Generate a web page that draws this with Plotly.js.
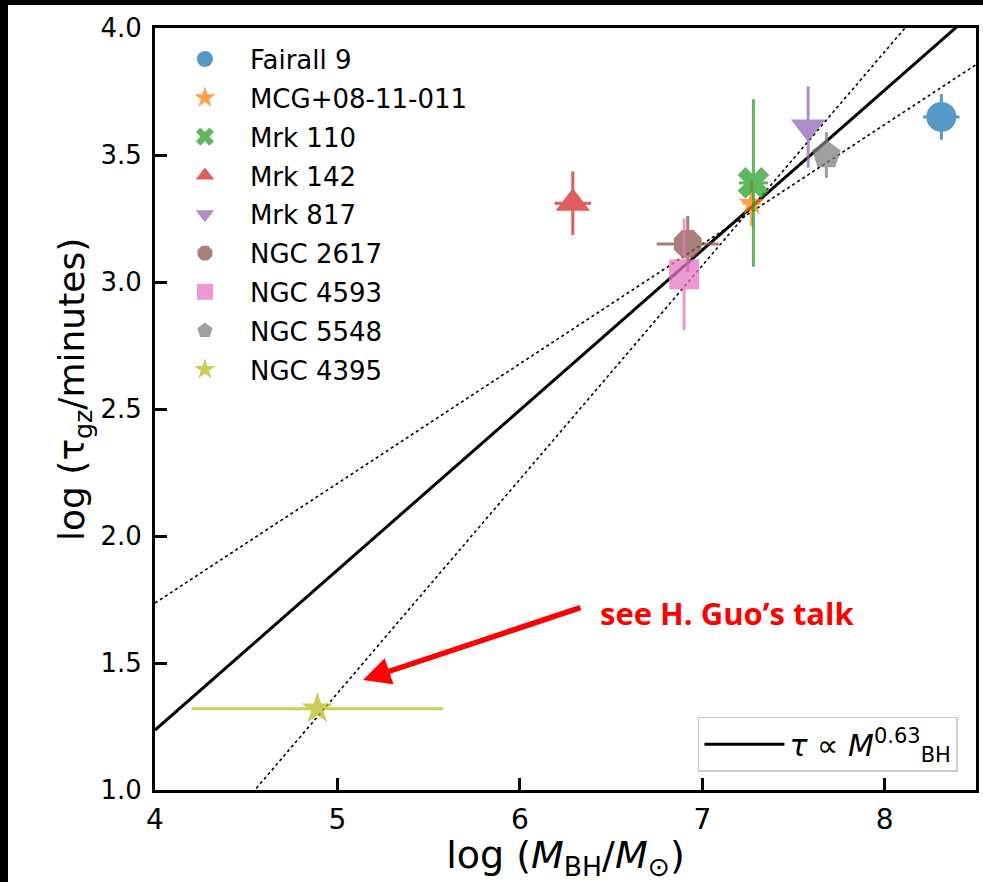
<!DOCTYPE html>
<html>
<head>
<meta charset="utf-8">
<script src="https://cdn.plot.ly/plotly-3.0.1.min.js"></script>
<style>
  html, body { margin: 0; padding: 0; background: #000; width: 983px; height: 882px; overflow: hidden; }
  #chart { position: absolute; left: 8px; top: 5px; width: 975px; height: 877px; background: #fff; }
</style>
</head>
<body>
<div id="chart"></div>
<script>
// ---- data ----
const names   = ['Fairall 9', 'MCG+08-11-011', 'Mrk 110', 'Mrk 142', 'Mrk 817', 'NGC 2617', 'NGC 4593', 'NGC 5548', 'NGC 4395'];
const logM    = [8.31, 7.27, 7.28, 6.29, 7.58, 6.92, 6.90, 7.68, 4.89];
const logTau  = [3.65, 3.31, 3.39, 3.31, 3.61, 3.15, 3.03, 3.50, 1.32];
const errM    = [0.10, 0.05, 0.08, 0.10, 0.05, 0.17, 0.05, 0.03, 0.69];
const errTau  = [0.09, 0.09, 0.33, 0.125, 0.16, 0.11, 0.22, 0.09, 0.03];
const colors  = ['#1f77b4', '#ff7f0e', '#2ca02c', '#d62728', '#9467bd', '#8c564b', '#e377c2', '#7f7f7f', '#bcbd22'];
const symbols = ['circle', 'star', 'x', 'triangle-up', 'triangle-down', 'octagon', 'square', 'pentagon', 'star'];
const sizes   = [30, 20, 28, 30, 30, 30, 30, 30, 24];

// best fit (solid) and bounding fits (dotted): y = intercept + slope * x
const fitSlope = 0.63, fitIntercept = -1.284;
const boundSlopes = [0.471, 0.842];
const boundIntercepts = [-0.148, -2.829];
const lineX = [4, 8.5];

const xTicks = [4, 5, 6, 7, 8];
const yTicks = [1.0, 1.5, 2.0, 2.5, 3.0, 3.5, 4.0];

// annotation: arrow head, arrow tail, label centre
const arrowHead = [5.14, 1.433];
const arrowTail = [6.34, 1.72];
const noteXY    = [7.14, 1.697];
const noteText  = 'see H. Guo’s talk';
const yTitle    = 'log (τ<sub>gz</sub>/minutes)';
const xTitle    = 'log (<i>M</i><sub>BH</sub>/<i>M</i><sub>⊙</sub>)';

const traces = [];
for (let i = 0; i < boundSlopes.length; i++) {
  traces.push({
    x: lineX, y: lineX.map(v => boundIntercepts[i] + boundSlopes[i] * v),
    mode: 'lines', line: {color: '#000', width: 1.6, dash: 'dot'},
    showlegend: false, hoverinfo: 'skip'
  });
}
traces.push({
  x: lineX, y: lineX.map(v => fitIntercept + fitSlope * v),
  mode: 'lines', line: {color: '#000', width: 3},
  name: '<i>τ</i> ∝ <i>M</i><sup>0.63</sup><sub>BH</sub>',
  legend: 'legend2'
});
for (let i = 0; i < names.length; i++) {
  traces.push({
    x: [logM[i]], y: [logTau[i]], name: names[i],
    mode: 'markers', type: 'scatter',
    legendgroup: 'g' + i,
    opacity: 0.75,
    marker: {color: colors[i], symbol: symbols[i], size: sizes[i], line: {width: 0}},
    error_x: {type: 'data', array: [errM[i]], color: colors[i], thickness: 3, width: 0},
    error_y: {type: 'data', array: [errTau[i]], color: colors[i], thickness: 3, width: 0}
  });
}

const axisCommon = {
  showgrid: false, zeroline: false,
  showline: true, linecolor: '#000', linewidth: 3, mirror: true,
  ticks: 'inside', ticklen: 12, tickwidth: 3, tickcolor: '#000'
};

const layout = {
  width: 975, height: 877,
  margin: {l: 147, r: 7, t: 23, b: 92},
  paper_bgcolor: '#fff', plot_bgcolor: '#fff',
  font: {family: 'DejaVu Sans', size: 26, color: '#000'},
  xaxis: Object.assign({}, axisCommon, {
    range: [4, 8.5], tickvals: xTicks, ticktext: xTicks.map(String),
    tickfont: {family: 'DejaVu Sans', size: 28, color: '#000'},
    ticklabelstandoff: 2,
    title: {text: xTitle, font: {family: 'DejaVu Sans', size: 38}, standoff: 2}
  }),
  yaxis: Object.assign({}, axisCommon, {
    range: [1, 4], tickvals: yTicks, ticktext: yTicks.map(v => v.toFixed(1)),
    tickfont: {family: 'DejaVu Sans', size: 26, color: '#000'},
    ticklabelstandoff: 5
  }),
  legend: {
    x: 0.006, y: 0.99, xanchor: 'left', yanchor: 'top',
    bgcolor: 'rgba(255,255,255,0)', borderwidth: 0,
    font: {family: 'DejaVu Sans', size: 26, color: '#000'},
    itemwidth: 80, tracegroupgap: 2, itemclick: false
  },
  legend2: {
    x: 0.978, y: 0.024, xanchor: 'right', yanchor: 'bottom',
    bgcolor: '#fff', bordercolor: '#cccccc', borderwidth: 1.5,
    font: {family: 'DejaVu Sans', size: 30, color: '#000'},
    itemwidth: 80
  },
  annotations: [
    {
      x: arrowHead[0], y: arrowHead[1], xref: 'x', yref: 'y',
      ax: arrowTail[0], ay: arrowTail[1], axref: 'x', ayref: 'y',
      text: '', showarrow: true, arrowcolor: '#ff0000',
      arrowwidth: 5.5, arrowhead: 2, arrowsize: 1, standoff: 0
    },
    {
      x: noteXY[0], y: noteXY[1], xref: 'x', yref: 'y',
      text: '<b>' + noteText + '</b>', showarrow: false,
      font: {family: 'Open Sans', size: 31, color: '#ff0000'}
    },
    {
      // y-axis title, placed like the reference (slightly above the axis centre)
      x: 0, y: 0.525, xref: 'paper', yref: 'paper',
      xanchor: 'center', yanchor: 'middle', xshift: -80,
      textangle: -90, showarrow: false,
      text: yTitle,
      font: {family: 'DejaVu Sans', size: 36, color: '#000'}
    }
  ],
  showlegend: true
};

Plotly.newPlot('chart', traces, layout, {staticPlot: true});
</script>
</body>
</html>
